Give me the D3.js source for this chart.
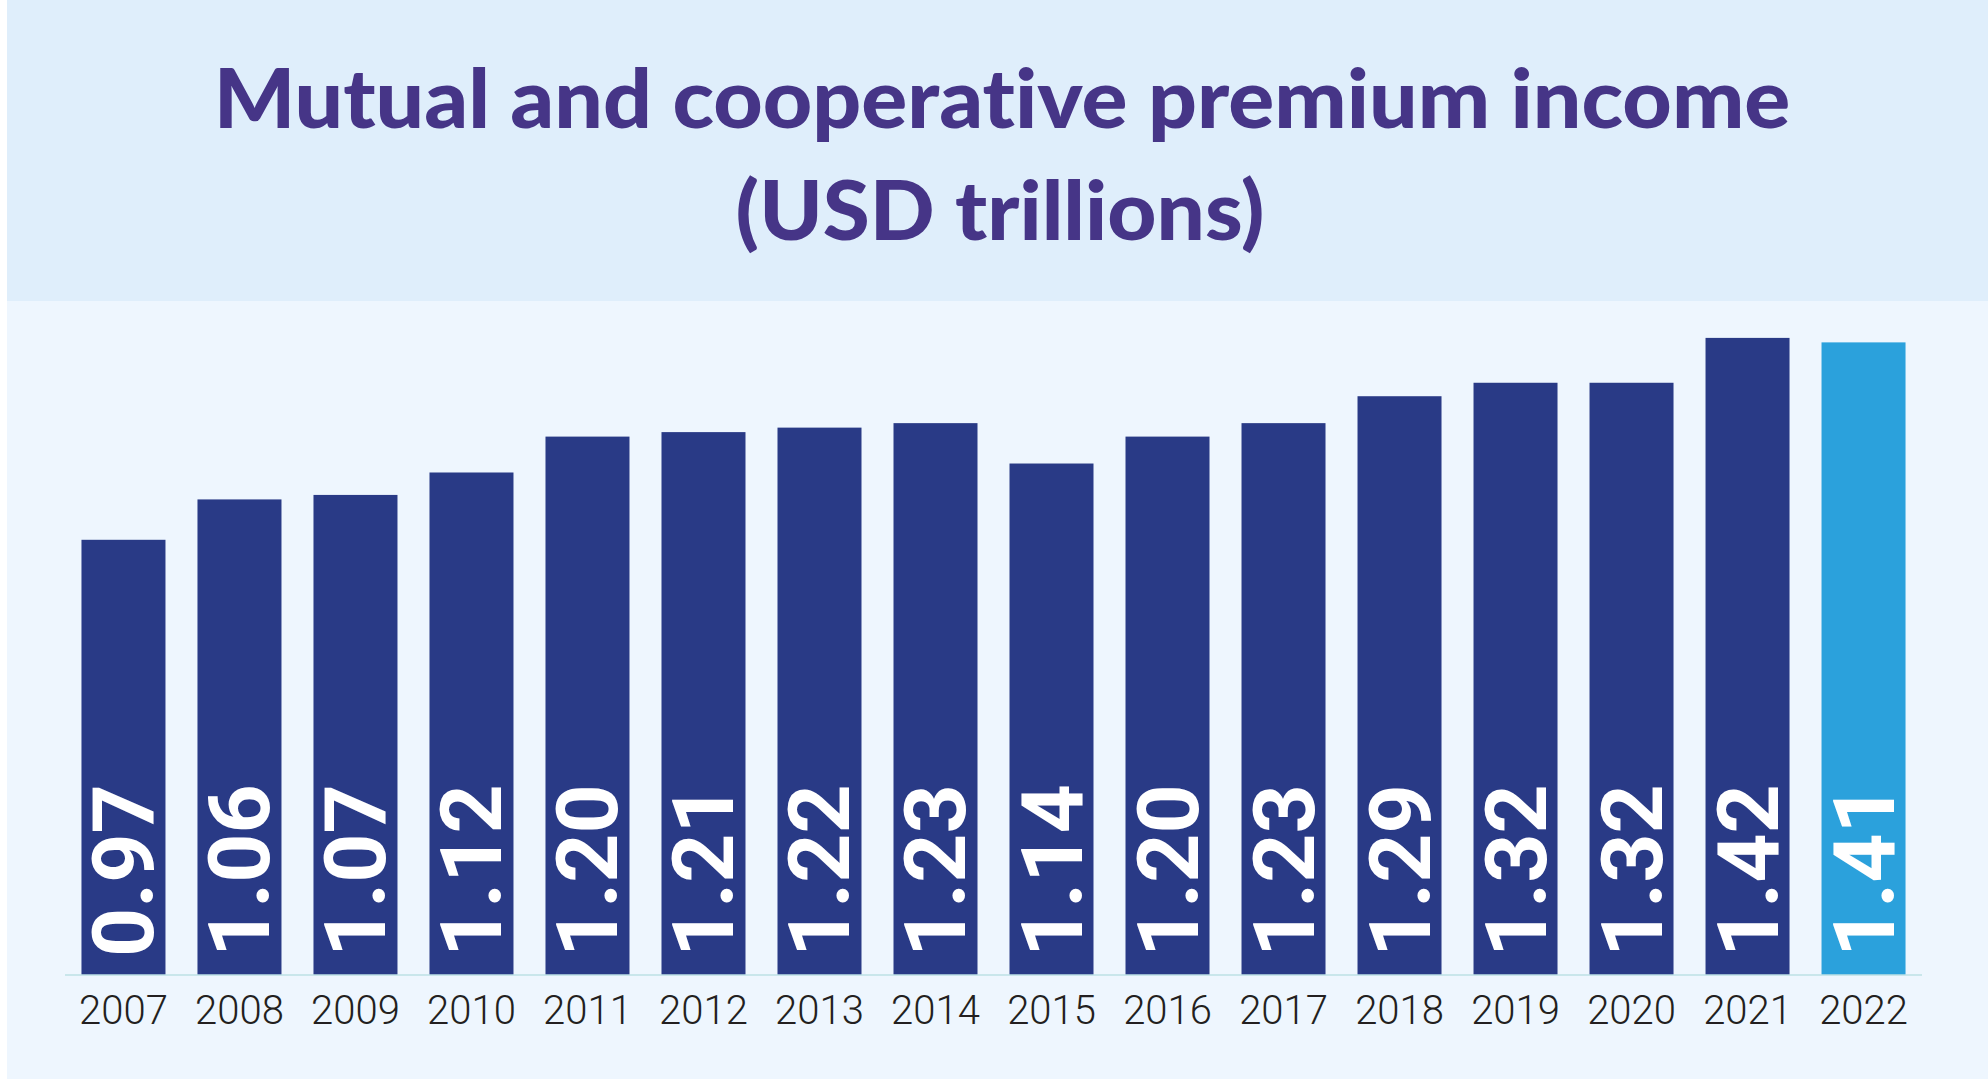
<!DOCTYPE html>
<html>
<head>
<meta charset="utf-8">
<script src="https://cdn.jsdelivr.net/npm/d3@7"></script>
<style>
  html, body { margin: 0; padding: 0; background: #ffffff; }
  svg { display: block; }
  .title { font-variant-ligatures: none; font-feature-settings: "liga" 0, "dlig" 0; }
</style>
</head>
<body>
<svg id="chart" width="1988" height="1079"></svg>
<script>
// Premium income of mutual and cooperative insurers, USD trillions
const years = ["2007","2008","2009","2010","2011","2012","2013","2014",
               "2015","2016","2017","2018","2019","2020","2021","2022"];
const premiums = [0.97, 1.06, 1.07, 1.12, 1.20, 1.21, 1.22, 1.23,
                  1.14, 1.20, 1.23, 1.29, 1.32, 1.32, 1.42, 1.41];
const highlightYear = "2022";
const titleLines = ["Mutual and cooperative premium income", "(USD trillions)"];

const W = 1988, H = 1079;
const svg = d3.select("#chart");

// backgrounds: title band and plot panel
svg.append("rect").attr("x", 7).attr("y", 0).attr("width", W - 7).attr("height", 301)
  .attr("fill", "#dfeefb");
svg.append("rect").attr("x", 7).attr("y", 301).attr("width", W - 7).attr("height", H - 301)
  .attr("fill", "#eef6fe");

// title, each line fitted to its width
const titleSpecs = [
  { text: titleLines[0], cx: 1002, baseline: 128, width: 1577 },
  { text: titleLines[1], cx: 1000, baseline: 240, width: 529 }
];
titleSpecs.forEach(s => {
  const t = svg.append("text")
    .attr("class", "title")
    .attr("font-family", "Lato, 'Open Sans', sans-serif")
    .attr("font-weight", 900)
    .attr("font-size", 82)
    .attr("fill", "#463587")
    .attr("text-anchor", "middle")
    .text(s.text);
  const w = t.node().getComputedTextLength();
  const k = s.width / w;
  t.attr("transform", `translate(${s.cx},${s.baseline}) scale(${k},1)`);
});

// scales
const x = d3.scaleBand()
  .domain(years)
  .range([65, 1922])
  .paddingInner(0.2759)
  .paddingOuter(0.142);

const y = d3.scaleLinear()
  .domain([0, 1.5])
  .range([975, 302]);

const data = years.map((yr, i) => ({ year: yr, value: premiums[i] }));

// bars
svg.append("g").selectAll("rect")
  .data(data)
  .join("rect")
  .attr("x", d => x(d.year))
  .attr("y", d => y(d.value))
  .attr("width", x.bandwidth())
  .attr("height", d => y(0) - y(d.value))
  .attr("fill", d => d.year === highlightYear ? "#2ba1dc" : "#293a86");

// baseline axis
const axis = d3.axisBottom(x).tickSize(0).tickPadding(0);
const gx = svg.append("g").attr("transform", `translate(0,${y(0)})`).call(axis);
gx.select(".domain").attr("stroke", "#bde0e4").attr("stroke-width", 1.5)
  .attr("d", `M${x.range()[0]},0H${x.range()[1]}`);
gx.selectAll(".tick text")
  .attr("y", 49)
  .attr("dy", 0)
  .attr("font-family", "Roboto, sans-serif")
  .attr("font-weight", 300)
  .attr("font-size", 40)
  .attr("fill", "#231f20");

// rotated value labels inside the bars
svg.append("g").selectAll("text")
  .data(data)
  .join("text")
  .attr("transform", d => `translate(${x(d.year) + x.bandwidth() / 2 + 30},${y(0) - 18}) rotate(-90)`)
  .attr("text-anchor", "start")
  .attr("font-family", "Roboto, sans-serif")
  .attr("font-weight", 700)
  .attr("font-size", 86)
  .attr("fill", "#ffffff")
  .text(d => d3.format(".2f")(d.value));
</script>
</body>
</html>
